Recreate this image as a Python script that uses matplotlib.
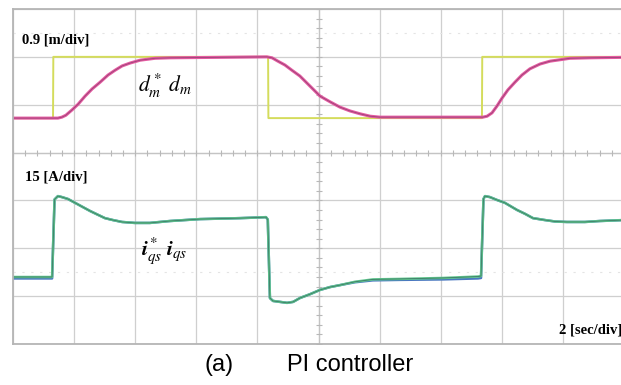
import numpy as np
import matplotlib
matplotlib.use('Agg')
import matplotlib.pyplot as plt

plt.rcParams['mathtext.fontset'] = 'stix'

# position reference d*_m (yellow) and response d_m (pink), in screen divisions
t_ref = [0, 1.31, 1.32, 8.35, 8.36, 15.35, 15.36, 20]
d_ref = [4.72, 4.72, 6.0, 6.0, 4.72, 4.72, 6.0, 6.0]

t_pos = [0, 1.47, 1.60, 1.73, 1.93, 2.13, 2.36, 2.59, 2.85, 3.11,
         3.34, 3.57, 3.83, 4.16, 4.65, 5.14, 8.31, 8.48, 8.67, 8.90,
         9.13, 9.39, 9.72, 10.05, 10.38, 10.70, 11.03, 11.36, 11.69, 12.01,
         15.38, 15.52, 15.68, 15.84, 16.01, 16.20, 16.43, 16.66, 16.92, 17.25,
         17.58, 17.91, 18.23, 18.89, 20]
d_pos = [4.72, 4.72, 4.74, 4.78, 4.89, 5.01, 5.18, 5.33, 5.47, 5.62,
         5.72, 5.81, 5.87, 5.93, 5.97, 5.98, 6.00, 5.98, 5.91, 5.83,
         5.72, 5.60, 5.39, 5.18, 5.06, 4.95, 4.87, 4.81, 4.76, 4.74,
         4.74, 4.76, 4.83, 4.97, 5.14, 5.31, 5.47, 5.62, 5.75, 5.85,
         5.91, 5.94, 5.97, 5.98, 5.99]

# q-axis current reference i*_qs (green) and measured i_qs (blue)
t_cur = [0, 1.28, 1.36, 1.47, 1.60, 1.80, 2.03, 2.29, 2.52, 2.78,
         3.01, 3.27, 3.57, 3.99, 4.48, 5.14, 6.12, 7.43, 8.28, 8.34,
         8.41, 8.51, 8.74, 8.97, 9.17, 9.39, 9.72, 10.05, 10.38, 10.70,
         11.19, 11.78, 12.67, 14.08, 15.22, 15.32, 15.40, 15.45, 15.61, 15.84,
         16.10, 16.50, 16.76, 17.02, 17.41, 17.74, 18.13, 18.72, 19.21, 20]
i_ref = [1.40, 1.40, 3.02, 3.09, 3.07, 3.03, 2.95, 2.86, 2.78, 2.70,
         2.63, 2.59, 2.55, 2.53, 2.53, 2.57, 2.61, 2.63, 2.65, 2.60,
         0.96, 0.90, 0.88, 0.86, 0.88, 0.96, 1.04, 1.13, 1.19, 1.23,
         1.30, 1.35, 1.36, 1.38, 1.41, 1.42, 3.03, 3.09, 3.07, 3.01,
         2.95, 2.80, 2.72, 2.63, 2.59, 2.56, 2.55, 2.55, 2.57, 2.59]
i_meas = [1.37, 1.37, 3.02, 3.09, 3.07, 3.03, 2.95, 2.86, 2.78, 2.70,
          2.63, 2.59, 2.55, 2.53, 2.53, 2.57, 2.61, 2.63, 2.65, 2.60,
          0.96, 0.90, 0.88, 0.86, 0.88, 0.96, 1.04, 1.13, 1.19, 1.23,
          1.29, 1.33, 1.34, 1.35, 1.37, 1.38, 3.03, 3.09, 3.07, 3.01,
          2.95, 2.80, 2.72, 2.63, 2.59, 2.56, 2.55, 2.55, 2.57, 2.59]

fig = plt.figure(figsize=(6.21, 3.85), dpi=100)
ax = fig.add_axes([13/621, 41/385, 611/621, 335/385])
ax.set_xlim(0, 20)
ax.set_ylim(0, 7)

# scope graticule
ax.set_xticks(np.arange(0, 21, 2))
ax.set_yticks(np.arange(0, 8, 1))
ax.grid(True, color='#cfcfcf', lw=0.9)
ax.tick_params(length=0, labelbottom=False, labelleft=False)
for s in ax.spines.values():
    s.set_color('#b5b5b5')
    s.set_linewidth(1.3)
ax.axhline(4, color='#c4c4c4', lw=0.9)
ax.axvline(10, color='#c4c4c4', lw=0.9)
ax.plot(np.arange(0, 20.01, 0.4), np.full(51, 4), ls='none', marker='|', ms=4, color='#b8b8b8', mew=0.8)
ax.plot(np.full(36, 10), np.arange(0, 7.01, 0.2), ls='none', marker='_', ms=4, color='#b8b8b8', mew=0.8)
ax.axhline(6.5, color='#e4e4e4', lw=0.8, ls=(0, (2, 6)))
ax.axhline(1.5, color='#e4e4e4', lw=0.8, ls=(0, (2, 6)))

# traces
ax.plot(t_ref, d_ref, color='#d4dc5c', lw=1.4)
ax.plot(t_pos, d_pos, color='#e45aa0', lw=2.2)
ax.plot(t_pos, d_pos, color='#7a3a66', lw=0.6, alpha=0.7)
ax.plot(t_cur, i_meas, color='#4a78c0', lw=1.8)
ax.plot(t_cur, i_ref, color='#62c890', lw=1.8)
ax.plot(t_cur, i_ref, color='#2e5a52', lw=0.6, alpha=0.7)

# labels
ax.text(0.28, 6.35, '0.9 [m/div]', family='Liberation Serif', weight='bold', fontsize=10.5, va='center')
ax.text(0.4, 3.48, '15 [A/div]', family='Liberation Serif', weight='bold', fontsize=10.5, va='center')
ax.text(19.95, 0.3, '2 [sec/div]', family='Liberation Serif', weight='bold', fontsize=10.5, va='center', ha='right')
ax.text(4.1, 5.4, r'$d_m^*\;d_m$', fontsize=15.5, va='center')
ax.text(4.2, 1.95, r'$\boldsymbol{i}_{qs}^*\;\boldsymbol{i}_{qs}$', fontsize=15.5, va='center')

fig.text(205/621, 1 - 365/385, '(a)', family='Liberation Sans', fontsize=17, va='center')
fig.text(287/621, 1 - 365/385, 'PI controller', family='Liberation Sans', fontsize=17, va='center')

fig.savefig('out.png', dpi=100)
